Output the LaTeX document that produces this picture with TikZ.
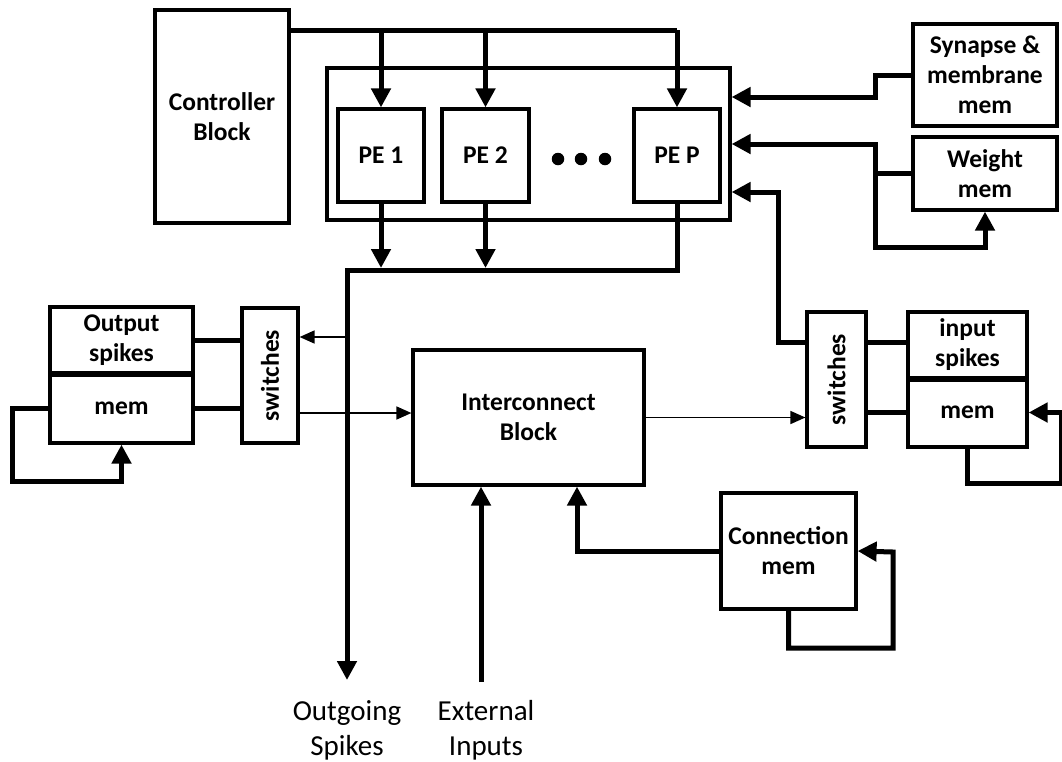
\documentclass[tikz,border=0pt]{standalone}
\usepackage{fontspec}
\usepackage{graphicx}
\setmainfont{Carlito}
\usetikzlibrary{arrows.meta}
\begin{document}
\begin{tikzpicture}[x=1pt,y=-1pt,
  box/.style={draw, line width=3.2pt, align=center, inner sep=0pt,
    font=\bfseries\fontsize{25.5}{30}\selectfont},
  bus/.style={line width=5pt, line cap=butt, line join=miter},
  thinline/.style={line width=1.6pt},
  big/.style={-{Triangle[length=19pt,width=19pt]}},
  small/.style={-{Triangle[length=15pt,width=13pt]}},
  lbl/.style={align=center, inner sep=0pt, font=\fontsize{29}{35}\selectfont},
  dot/.style={circle, fill, inner sep=0pt, minimum size=12.5pt}]
\useasboundingbox (0,0) rectangle (1062,761);

% controller and processing element array
\node[box, minimum width=134pt, minimum height=213pt] (ctrl) at (222,116.5) {Controller\\Block};
\node[draw, line width=3.2pt, minimum width=403pt, minimum height=152pt] (arr) at (528.5,144) {};
\node[box, minimum width=86pt, minimum height=93pt] (pe1) at (381,155.5) {PE 1};
\node[box, minimum width=87pt, minimum height=93pt] (pe2) at (485.5,155.5) {PE 2};
\node[box, minimum width=86pt, minimum height=93pt] (pep) at (677,155.5) {PE P};
\node[dot] (d1) at (558,159) {};
\node[dot] (d2) at (581,159) {};
\node[dot] (d3) at (605,159) {};

% memories feeding the array
\node[box, minimum width=144pt, minimum height=102pt] (syn) at (985,75) {Synapse \&\\membrane\\mem};
\node[box, minimum width=144pt, minimum height=73pt] (wgt) at (985,173.5) {Weight\\mem};

% output side
\node[box, minimum width=143pt, minimum height=66pt] (outsp) at (121.5,340) {Output\\spikes};
\node[box, minimum width=143pt, minimum height=70pt] (outmem) at (121.5,408) {mem};
\draw[line width=5pt] (outsp.south west) -- (outsp.south east);
\node[box, minimum width=56pt, minimum height=135pt] (swl) at (270,375.5) {\rotatebox{90}{switches}};

% interconnect
\node[box, minimum width=231pt, minimum height=135pt] (ic) at (528.5,417.5) {Interconnect\\Block};

% input side
\node[box, minimum width=59pt, minimum height=135pt] (swr) at (836.5,379.5) {\rotatebox{90}{switches}};
\node[box, minimum width=119pt, minimum height=66pt] (insp) at (967.5,345) {input\\spikes};
\node[box, minimum width=119pt, minimum height=69pt] (inmem) at (967.5,412.5) {mem};
\draw[line width=5pt] (insp.south west) -- (insp.south east);

% connection memory
\node[box, minimum width=135pt, minimum height=116pt] (conn) at (788.5,551) {Connection\\mem};

% external labels
\node[lbl] (outlbl) at (347,730) {Outgoing\\Spikes};
\node[lbl] (extlbl) at (486,730) {External\\Inputs};
\coordinate (outend) at (347,680);
\coordinate (extstart) at (481,682);

% control bus
\coordinate (cb) at (677,30);
\draw[bus] (ctrl.east |- cb) -- (cb);
\draw[bus,big] (cb) -- (pep.north);
\draw[bus,big] (pe1.north |- cb) -- (pe1.north);
\draw[bus,big] (pe2.north |- cb) -- (pe2.north);

% output spike bus
\coordinate (ob) at (347,270);
\draw[bus,big] (pe1.south) -- (pe1.south |- 0,268);
\draw[bus,big] (pe2.south) -- (pe2.south |- 0,268);
\draw[bus,big] (pep.south) -- (pep.south |- ob) -- (ob) -- (outend);
\coordinate (tap) at (347,337);
\draw[thinline,small] (tap) -- (swl.east |- tap);
\draw[thinline,small] (swl.east |- 0,413) -- (ic.west |- 0,413);

% output spike memory links
\draw[bus] (outsp.east) -- (outsp.east -| swl.west);
\draw[bus] (outmem.east) -- (outmem.east -| swl.west);
\draw[bus,big] (outmem.west) -- (12,408) -- (12,481) -| (outmem.south);

% interconnect to input switches
\draw[thinline,small] (ic.east) -- (ic.east -| swr.west);

% input spike memory links
\draw[bus] (swr.east |- 0,342) -- (insp.west |- 0,342);
\draw[bus] (inmem.west -| swr.east) -- (inmem.west);
\draw[bus,big] (swr.west |- 0,342) -| (778,192) -- (arr.east |- 0,192);
\draw[bus,big] (inmem.south) -- (967.5,483) -- (1061,483) -- (1061,412.5) -- (inmem.east);

% synapse and weight memories
\draw[bus,big] (syn.west) -- (875,75) -- (875,97) -- (arr.east |- 0,97);
\draw[bus,big] (wgt.west) -- (875,173.5) |- (arr.east |- 0,144);
\draw[bus,big] (875,173.5) |- (985,247) -- (wgt.south);

% connection memory links
\draw[bus,big] (conn.west) -- (577,551) -- (ic.south -| 577,0);
\draw[bus,big] (conn.south) -- (788.5,648) -- (893,648) -- (893,552) -- (conn.east);

% external inputs
\draw[bus,big] (extstart) -- (ic.south -| extstart);
\end{tikzpicture}
\end{document}
